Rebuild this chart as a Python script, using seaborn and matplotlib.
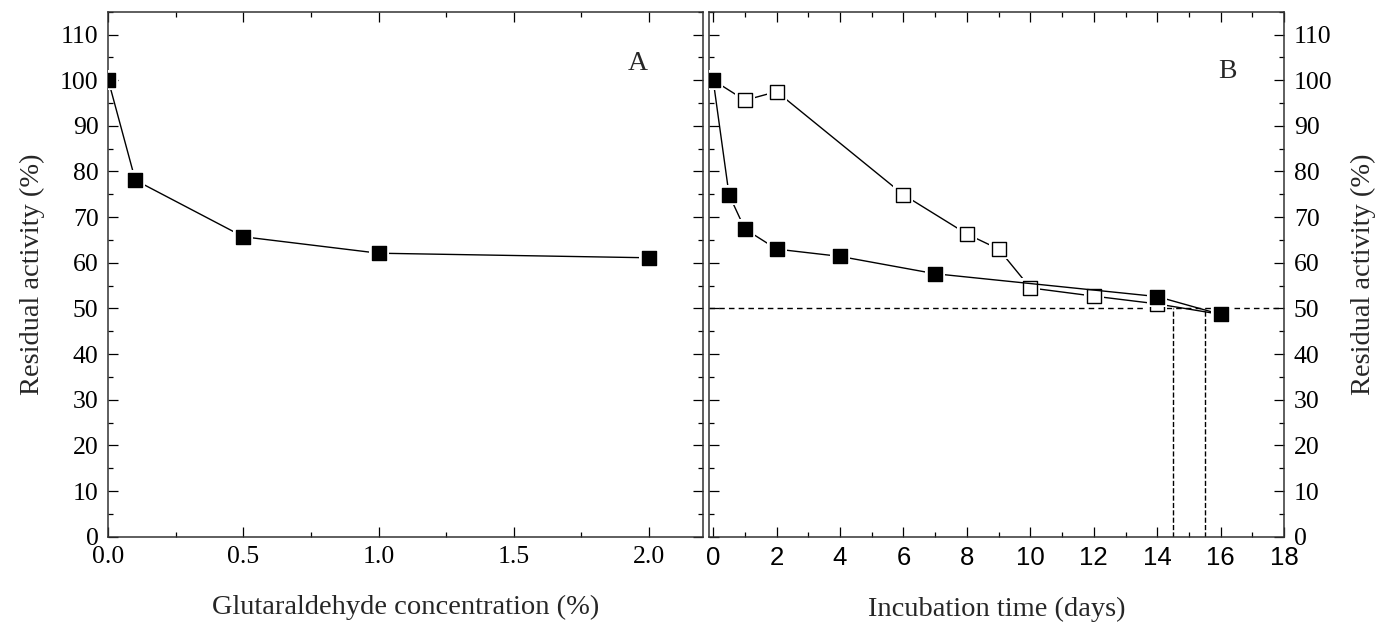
import matplotlib
matplotlib.use("Agg")
import matplotlib.pyplot as plt
import seaborn as sns
from matplotlib.ticker import MultipleLocator

sns.set_style("ticks")
plt.rcParams['font.family'] = ['Liberation Serif', 'DejaVu Serif']
plt.rcParams['font.size'] = 18

# Panel A: residual activity vs glutaraldehyde concentration
glut_conc = [0.0, 0.1, 0.5, 1.0, 2.0]
glut_activity = [100, 78.1, 65.7, 62.1, 61.1]

# Panel B: residual activity vs incubation time
time_filled = [0, 0.5, 1, 2, 4, 7, 14, 16]
activity_filled = [100, 74.9, 67.4, 63.0, 61.4, 57.6, 52.6, 48.7]
time_open = [0, 1, 2, 6, 8, 9, 10, 12, 14, 16]
activity_open = [100, 95.6, 97.5, 74.9, 66.3, 63.0, 54.5, 52.7, 51.0, 48.7]

# half-life guide lines
half_activity = 50
half_life_days = [14.5, 15.5]

day_ticks = list(range(0, 19, 2))
day_labels = [str(d) for d in day_ticks]


def draw_series(ax, x, y, face, z=2):
    # line, then a white halo so the line stops short of the marker, then the marker
    sns.lineplot(x=x, y=y, ax=ax, color='black', lw=1.0, sort=False,
                 estimator=None, zorder=z)
    sns.scatterplot(x=x, y=y, ax=ax, marker='s', s=200, color='white',
                    linewidth=0, zorder=z + 1)
    sns.scatterplot(x=x, y=y, ax=ax, marker='s', s=90, color=face,
                    edgecolor='black', linewidth=1.0, zorder=z + 2)


def style_axes(ax):
    ax.set_ylim(0, 115)
    ax.yaxis.set_major_locator(MultipleLocator(10))
    ax.yaxis.set_minor_locator(MultipleLocator(5))
    ax.tick_params(which='both', direction='in', top=True, right=True,
                   width=0.9, colors='black')
    ax.tick_params(which='major', length=7.2, pad=7, labelsize=18.5)
    ax.tick_params(which='minor', length=3.6)
    for sp in ax.spines.values():
        sp.set_linewidth(1.1)
        sp.set_color('#333333')
        sp.set_visible(True)


fig = plt.figure(figsize=(13.83, 6.23), dpi=100)
axA = fig.add_axes([0.0783, 0.1385, 0.430, 0.8427])
axB = fig.add_axes([0.5127, 0.1385, 0.4158, 0.8427])

# Panel A
draw_series(axA, glut_conc, glut_activity, 'black')
style_axes(axA)
axA.set_xlim(0, 2.2)
axA.xaxis.set_major_locator(MultipleLocator(0.5))
axA.xaxis.set_minor_locator(MultipleLocator(0.25))
axA.set_xticks([0.0, 0.5, 1.0, 1.5, 2.0])
axA.set_xticklabels(['0.0', '0.5', '1.0', '1.5', '2.0'])
axA.set_xlabel('Glutaraldehyde concentration (%)', fontsize=20.5, labelpad=19)
axA.set_ylabel('Residual activity (%)', fontsize=20.5, labelpad=11)
axA.text(1.96, 103.6, 'A', ha='center', va='center', fontsize=20)

# Panel B
draw_series(axB, time_open, activity_open, 'white', z=2)
draw_series(axB, time_filled, activity_filled, 'black', z=6)
axB.axhline(half_activity, ls='--', lw=1.0, color='black', dashes=(4, 3), zorder=1)
axB.vlines(half_life_days, 0, half_activity, linestyles='--', lw=1.0,
           color='black', zorder=1)
style_axes(axB)
axB.set_xlim(-0.13, 18)
axB.xaxis.set_minor_locator(MultipleLocator(1))
axB.set_xticks(day_ticks)
axB.set_xticklabels(day_labels, family=['Liberation Sans', 'DejaVu Sans'])
axB.tick_params(labelleft=False, labelright=True)
axB.yaxis.set_label_position('right')
axB.set_xlabel('Incubation time (days)', fontsize=20.5, labelpad=19)
axB.set_ylabel('Residual activity (%)', fontsize=20.5, labelpad=13)
axB.text(16.2, 102, 'B', ha='center', va='center', fontsize=20)

fig.savefig('out.png', dpi=100)
